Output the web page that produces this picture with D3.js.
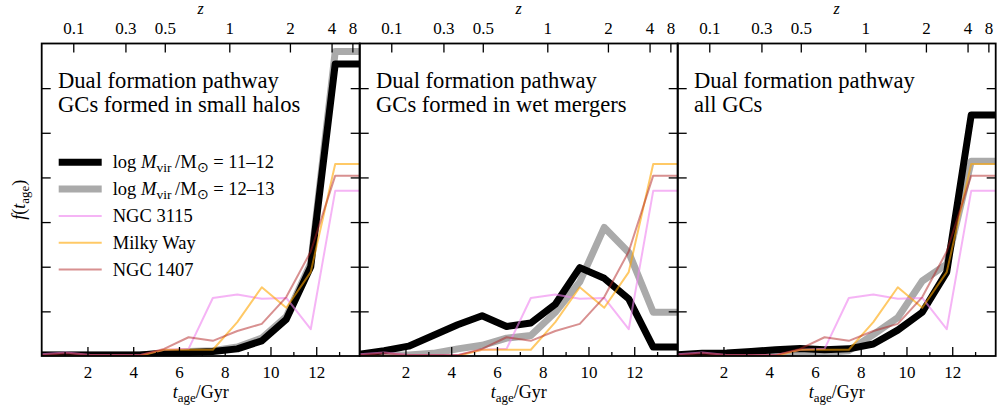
<!DOCTYPE html>
<html>
<head>
<meta charset="utf-8">
<script src="https://cdn.jsdelivr.net/npm/d3@7"></script>
<style>
  html, body { margin: 0; padding: 0; background: #fff; }
  svg { display: block; }
  text { font-family: "Liberation Serif", "Times New Roman", serif; fill: #000; }
</style>
</head>
<body>
<svg id="chart" width="997" height="414"></svg>
<script>
// Bin grid of GC ages (Gyr); the last point closes the final bin at the right edge.
const ageGrid = [0, 1.07, 2.14, 3.21, 4.28, 5.35, 6.42, 7.48, 8.55, 9.62, 10.69, 11.76, 12.83, 13.9];

// Observed age distributions (same in every panel)
const ngc3115  = [0.002, 0.004, 0.001, 0.001, 0.001, 0.007, 0.008, 0.065, 0.069, 0.064, 0.065, 0.030, 0.185, 0.185];
const milkyWay = [0.000, 0.000, 0.000, 0.000, 0.000, 0.007, 0.007, 0.007, 0.038, 0.077, 0.054, 0.094, 0.215, 0.215];
const ngc1407  = [0.001, 0.003, 0.001, 0.001, 0.001, 0.008, 0.021, 0.017, 0.028, 0.036, 0.066, 0.117, 0.202, 0.202];

// Model: GCs formed in small halos
const smallHalosLow  = [0.001, 0.001, 0.001, 0.001, 0.001, 0.003, 0.004, 0.005, 0.008, 0.017, 0.041, 0.100, 0.327, 0.327];
const smallHalosHigh = [0.001, 0.001, 0.001, 0.001, 0.001, 0.003, 0.005, 0.006, 0.010, 0.020, 0.044, 0.104, 0.341, 0.341];

// Model: GCs formed in wet mergers
const wetMergersLow  = [0.002, 0.006, 0.011, 0.023, 0.035, 0.045, 0.033, 0.037, 0.058, 0.099, 0.087, 0.064, 0.010, 0.010];
const wetMergersHigh = [0.001, 0.001, 0.001, 0.003, 0.008, 0.012, 0.020, 0.023, 0.049, 0.083, 0.144, 0.116, 0.049, 0.049];

// Model: all GCs
const allGCsLow  = [0.0015, 0.003, 0.0035, 0.005, 0.007, 0.0085, 0.007, 0.008, 0.0135, 0.029, 0.049, 0.094, 0.270, 0.270];
const allGCsHigh = [0.001, 0.001, 0.001, 0.002, 0.003, 0.005, 0.004, 0.006, 0.024, 0.043, 0.084, 0.103, 0.218, 0.218];

// Axis ticks
const ageTicksMajor = [2, 4, 6, 8, 10, 12];
const ageTicksMinor = [1, 3, 5, 7, 9, 11, 13];
const fTicks = [0.05, 0.10, 0.15, 0.20, 0.25, 0.30];
const zTickLabels = ["0.1", "0.3", "0.5", "1", "2", "4", "8"];
const zTickAges = [1.38, 3.66, 5.38, 8.2, 10.85, 12.67, 13.58];

const panelTitles = [
  ["Dual formation pathway", "GCs formed in small halos"],
  ["Dual formation pathway", "GCs formed in wet mergers"],
  ["Dual formation pathway", "all GCs"]
];
const panelModels = [
  [smallHalosLow, smallHalosHigh],
  [wetMergersLow, wetMergersHigh],
  [allGCsLow, allGCsHigh]
];

// ---- layout ----
const svg = d3.select("#chart");
const panelW = 318, panelH = 312.5;
const plotTop = 43.5;
const lefts = [41.7, 359.7, 677.7];

const x = d3.scaleLinear().domain([0, 13.9]).range([0, panelW]);
const y = d3.scaleLinear().domain([0, 0.35]).range([panelH, 0]);

const styles = {
  low:  { stroke: "#000000", width: 7, opacity: 1 },
  high: { stroke: "#aaaaaa", width: 7, opacity: 1 },
  n3115: { stroke: "#ee82ee", width: 2, opacity: 0.6 },
  mw:    { stroke: "#ffa500", width: 2, opacity: 0.6 },
  n1407: { stroke: "#b22222", width: 2, opacity: 0.5 }
};

const line = d3.line()
  .x((d, i) => x(ageGrid[i]))
  .y(d => y(d));

svg.append("defs").append("clipPath").attr("id", "plotclip")
  .append("rect").attr("x", 0).attr("y", 0).attr("width", panelW).attr("height", panelH);

function styleAxis(g) {
  g.select(".domain").remove();
  g.selectAll(".tick line").attr("stroke", "#000").attr("stroke-width", 1.3);
  g.selectAll(".tick text").style("font-family", "'Liberation Serif', serif").style("font-size", "17px").attr("fill", "#000");
}

lefts.forEach((left, p) => {
  const g = svg.append("g").attr("transform", `translate(${left},${plotTop})`);

  // series
  const plot = g.append("g").attr("clip-path", "url(#plotclip)");
  const [lowSeries, highSeries] = panelModels[p];
  const drawn = [
    [highSeries, styles.high],
    [lowSeries, styles.low],
    [ngc3115, styles.n3115],
    [milkyWay, styles.mw],
    [ngc1407, styles.n1407]
  ];
  drawn.forEach(([vals, st]) => {
    plot.append("path")
      .datum(vals)
      .attr("d", line)
      .attr("fill", "none")
      .attr("stroke", st.stroke)
      .attr("stroke-width", st.width)
      .attr("stroke-opacity", st.opacity)
      .attr("stroke-linejoin", "round")
      .attr("stroke-linecap", "butt");
  });

  // bottom axis (ticks point inward)
  g.append("g").attr("transform", `translate(0,${panelH})`)
    .call(d3.axisBottom(x).tickValues(ageTicksMajor).tickSize(-9).tickPadding(10).tickFormat(d3.format("d")))
    .call(styleAxis);
  g.append("g").attr("transform", `translate(0,${panelH})`)
    .call(d3.axisBottom(x).tickValues(ageTicksMinor).tickSize(-4).tickFormat(""))
    .call(styleAxis);

  // top redshift axis
  g.append("g")
    .call(d3.axisTop(x).tickValues(zTickAges).tickSize(-9).tickPadding(9.5)
      .tickFormat((d, i) => zTickLabels[i]))
    .call(styleAxis);

  // y ticks on both sides, no labels
  g.append("g")
    .call(d3.axisLeft(y).tickValues(fTicks).tickSize(-9).tickFormat(""))
    .call(styleAxis);
  g.append("g").attr("transform", `translate(${panelW},0)`)
    .call(d3.axisRight(y).tickValues(fTicks).tickSize(-9).tickFormat(""))
    .call(styleAxis);

  // frame
  g.append("rect").attr("x", 0).attr("y", 0).attr("width", panelW).attr("height", panelH)
    .attr("fill", "none").attr("stroke", "#000").attr("stroke-width", 1.8);

  // z label
  g.append("text").attr("x", panelW / 2).attr("y", 14 - plotTop)
    .attr("text-anchor", "middle").style("font-size", "16px").style("font-style", "italic").text("z");

  // x label: t_age / Gyr
  const xl = g.append("text").attr("x", panelW / 2).attr("y", 398 - plotTop)
    .attr("text-anchor", "middle").style("font-size", "18px");
  xl.append("tspan").style("font-style", "italic").text("t");
  xl.append("tspan").attr("dy", 4).style("font-size", "13px").text("age");
  xl.append("tspan").attr("dy", -4).text("/Gyr");

  // panel title
  const tt = g.append("text").attr("x", 16.3).attr("y", 88 - plotTop).style("font-size", "22.6px");
  panelTitles[p].forEach((s, i) => {
    tt.append("tspan").attr("x", 16.3).attr("dy", i === 0 ? 0 : 24).text(s);
  });
});

// y label: f(t_age)
const yl = svg.append("text")
  .attr("transform", `translate(25,${plotTop + panelH / 2}) rotate(-90)`)
  .attr("text-anchor", "middle").style("font-size", "18px");
yl.append("tspan").style("font-style", "italic").text("f");
yl.append("tspan").text("(");
yl.append("tspan").style("font-style", "italic").text("t");
yl.append("tspan").attr("dy", 4).style("font-size", "13px").text("age");
yl.append("tspan").attr("dy", -4).text(")");

// legend in the first panel
const legendItems = [
  { key: "low",  range: "11–12" },
  { key: "high", range: "12–13" },
  { key: "n3115", label: "NGC 3115" },
  { key: "mw",    label: "Milky Way" },
  { key: "n1407", label: "NGC 1407" }
];
const lg = svg.append("g").attr("transform", `translate(${lefts[0]},0)`);
legendItems.forEach((it, i) => {
  const cy = 162.3 + i * 26.8;
  const st = styles[it.key];
  lg.append("line").attr("x1", 17).attr("x2", 60).attr("y1", cy).attr("y2", cy)
    .attr("stroke", st.stroke).attr("stroke-width", st.width).attr("stroke-opacity", st.opacity);
  const t = lg.append("text").attr("x", 71).attr("y", cy + 6).style("font-size", "18.5px");
  if (it.label) {
    t.text(it.label);
  } else {
    t.append("tspan").text("log ");
    t.append("tspan").style("font-style", "italic").text("M");
    t.append("tspan").attr("dy", 4).style("font-size", "13.5px").text("vir");
    t.append("tspan").attr("dy", -4).text("\u2009/M");
    t.append("tspan").attr("dy", 4).style("font-size", "13.5px").text("⊙");
    t.append("tspan").attr("dy", -4).text(" = " + it.range);
  }
});
</script>
</body>
</html>
